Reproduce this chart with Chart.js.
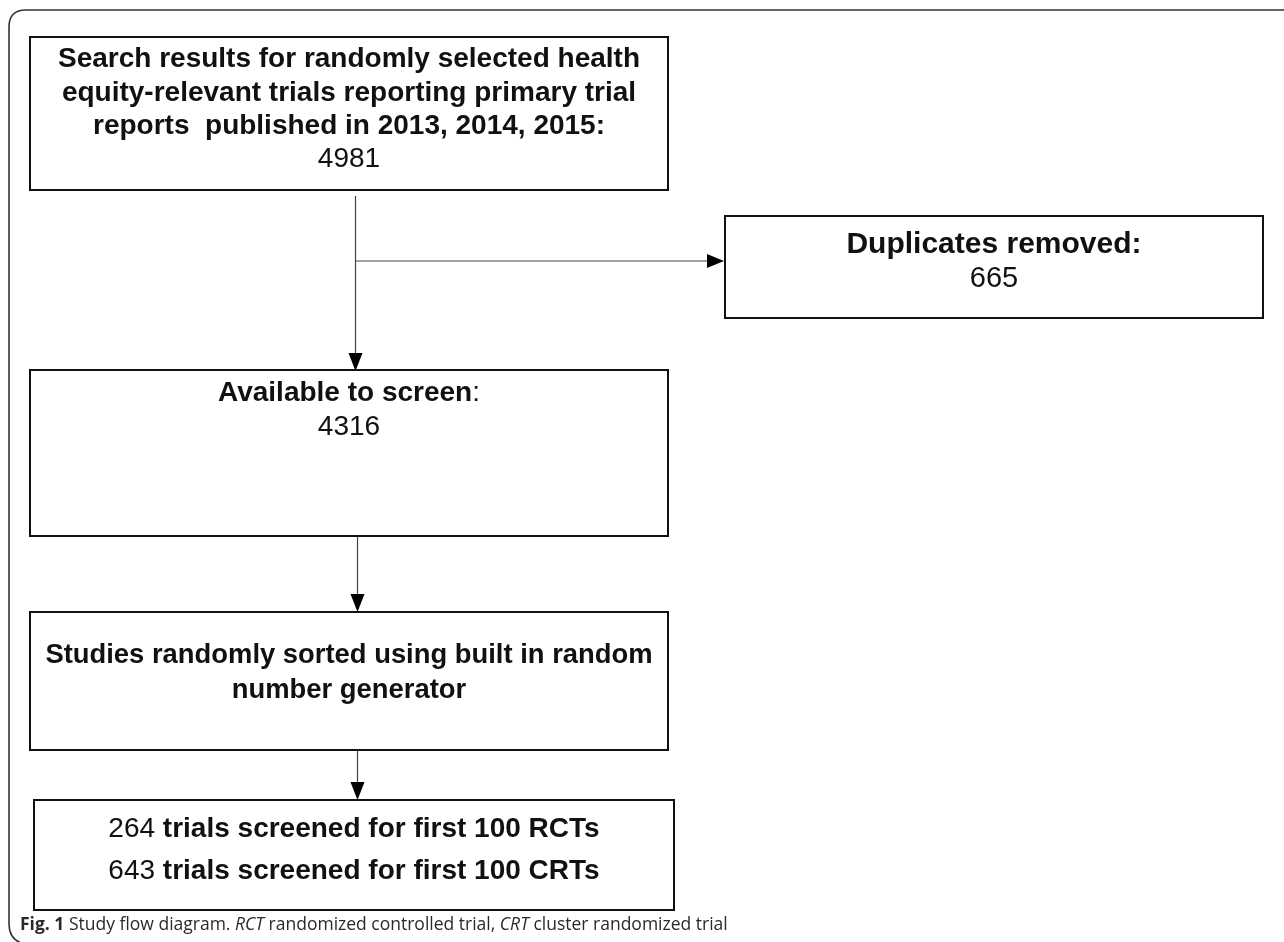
<!DOCTYPE html>
<html>
<head>
<meta charset="utf-8">
<script src="https://cdn.jsdelivr.net/npm/chart.js@4/dist/chart.umd.min.js"></script>
<style>
  html, body { margin: 0; padding: 0; background: #ffffff; }
  #wrap { width: 1284px; height: 942px; position: relative; }
</style>
</head>
<body>
<div id="wrap"><canvas id="c" width="1284" height="942"></canvas></div>
<script>
// ---- data ----
const stepNames = ["search", "duplicates", "available", "sorted", "screened"];
const stepCounts = [4981, 665, 4316, null, null];
const screenedCounts = [264, 643];
const screenedGroups = ["RCTs", "CRTs"];
const captionBold = "Fig. 1";
const captionText = [
  { t: " Study flow diagram. ", i: false },
  { t: "RCT", i: true },
  { t: " randomized controlled trial, ", i: false },
  { t: "CRT", i: true },
  { t: " cluster randomized trial", i: false }
];

// ---- layout (kept separate from data) ----
const boxes = {
  search:     { x0: 30,  x1: 668,  y0: 37,  y1: 190 },
  duplicates: { x0: 725, x1: 1263, y0: 216, y1: 318 },
  available:  { x0: 30,  x1: 668,  y0: 370, y1: 536 },
  sorted:     { x0: 30,  x1: 668,  y0: 612, y1: 750 },
  screened:   { x0: 34,  x1: 674,  y0: 800, y1: 910 }
};

const BOLD = "bold 28px 'Liberation Sans', Arial, sans-serif";
const NORM = "28px 'Liberation Sans', Arial, sans-serif";
const BOLD_S = "bold 27.4px 'Liberation Sans', Arial, sans-serif";
const BOLD_L = "bold 30px 'Liberation Sans', Arial, sans-serif";
const NORM_L = "29px 'Liberation Sans', Arial, sans-serif";

function texts() {
  return {
    search: [
      [{ t: "Search results for randomly selected health", f: BOLD }],
      [{ t: "equity-relevant trials reporting primary trial", f: BOLD }],
      [{ t: "reports  published in 2013, 2014, 2015:", f: BOLD }],
      [{ t: String(stepCounts[0]), f: NORM }]
    ],
    duplicates: [
      [{ t: "Duplicates removed:", f: BOLD_L }],
      [{ t: String(stepCounts[1]), f: NORM_L }]
    ],
    available: [
      [{ t: "Available to screen", f: BOLD }, { t: ":", f: NORM }],
      [{ t: String(stepCounts[2]), f: NORM }]
    ],
    sorted: [
      [{ t: "Studies randomly sorted using built in random", f: BOLD_S }],
      [{ t: "number generator", f: BOLD_S }]
    ],
    screened: screenedCounts.map((n, i) => [
      { t: String(n) + " ", f: NORM },
      { t: "trials screened for first 100 " + screenedGroups[i], f: BOLD }
    ])
  };
}

const textY = {
  search: [59, 93, 126, 159],
  duplicates: [245, 279],
  available: [393, 427],
  sorted: [655, 690],
  screened: [829, 871]
};

const flowPlugin = {
  id: 'flow',
  afterDraw(chart) {
    const ctx = chart.ctx;
    const xs = chart.scales.x, ys = chart.scales.y;
    const X = v => xs.getPixelForValue(v);
    const Y = v => ys.getPixelForValue(v);
    ctx.save();

    // outer rounded frame
    ctx.strokeStyle = '#333';
    ctx.lineWidth = 1.6;
    ctx.beginPath();
    ctx.moveTo(X(1290), Y(10));
    ctx.lineTo(X(26), Y(10));
    ctx.quadraticCurveTo(X(9), Y(10), X(9), Y(27));
    ctx.lineTo(X(9), Y(924));
    ctx.quadraticCurveTo(X(9), Y(940), X(24), Y(944));
    ctx.stroke();

    // boxes
    ctx.strokeStyle = '#111';
    ctx.lineWidth = 2;
    for (const k of stepNames) {
      const b = boxes[k];
      ctx.strokeRect(X(b.x0), Y(b.y0), X(b.x1) - X(b.x0), Y(b.y1) - Y(b.y0));
    }

    // connectors
    function arrowHead(tx, ty, dir) {
      ctx.fillStyle = '#000';
      ctx.beginPath();
      if (dir === 'down') {
        ctx.moveTo(tx, ty);
        ctx.lineTo(tx - 7, ty - 18);
        ctx.lineTo(tx + 7, ty - 18);
      } else {
        ctx.moveTo(tx, ty);
        ctx.lineTo(tx - 17, ty - 7);
        ctx.lineTo(tx - 17, ty + 7);
      }
      ctx.closePath();
      ctx.fill();
    }
    ctx.strokeStyle = '#444';
    ctx.lineWidth = 1.2;
    const lines = [
      [355.5, 196, 355.5, 356],
      [355.5, 261, 712, 261],
      [357.5, 537, 357.5, 596],
      [357.5, 751, 357.5, 786]
    ];
    for (const l of lines) {
      ctx.beginPath();
      ctx.moveTo(X(l[0]), Y(l[1]));
      ctx.lineTo(X(l[2]), Y(l[3]));
      ctx.stroke();
    }
    arrowHead(X(355.5), Y(371), 'down');
    arrowHead(X(724), Y(261), 'right');
    arrowHead(X(357.5), Y(612), 'down');
    arrowHead(X(357.5), Y(800), 'down');

    // box texts
    ctx.fillStyle = '#111';
    ctx.textBaseline = 'middle';
    ctx.textAlign = 'left';
    const T = texts();
    for (const k of stepNames) {
      const b = boxes[k];
      const cx = (X(b.x0) + X(b.x1)) / 2;
      T[k].forEach((segs, i) => {
        let w = 0;
        for (const s of segs) { ctx.font = s.f; w += ctx.measureText(s.t).width; }
        let x = cx - w / 2;
        const y = Y(textY[k][i]);
        for (const s of segs) {
          ctx.font = s.f;
          ctx.fillText(s.t, x, y);
          x += ctx.measureText(s.t).width;
        }
      });
    }

    // caption
    ctx.fillStyle = '#2a2a2a';
    let x = X(20);
    const cy = Y(925);
    ctx.font = "bold 17.5px 'Open Sans', sans-serif";
    ctx.fillText(captionBold, x, cy);
    x += ctx.measureText(captionBold).width;
    for (const s of captionText) {
      ctx.font = (s.i ? "italic " : "") + "17.5px 'Open Sans', sans-serif";
      ctx.fillText(s.t, x, cy);
      x += ctx.measureText(s.t).width;
    }
    ctx.restore();
  }
};

new Chart(document.getElementById('c'), {
  type: 'scatter',
  data: { datasets: [{ data: [], pointRadius: 0 }] },
  options: {
    responsive: false,
    animation: false,
    layout: { padding: 0 },
    plugins: { legend: { display: false }, tooltip: { enabled: false } },
    scales: {
      x: { type: 'linear', min: 0, max: 1284, display: false },
      y: { type: 'linear', min: 0, max: 942, reverse: true, display: false }
    }
  },
  plugins: [flowPlugin]
});
</script>
</body>
</html>
